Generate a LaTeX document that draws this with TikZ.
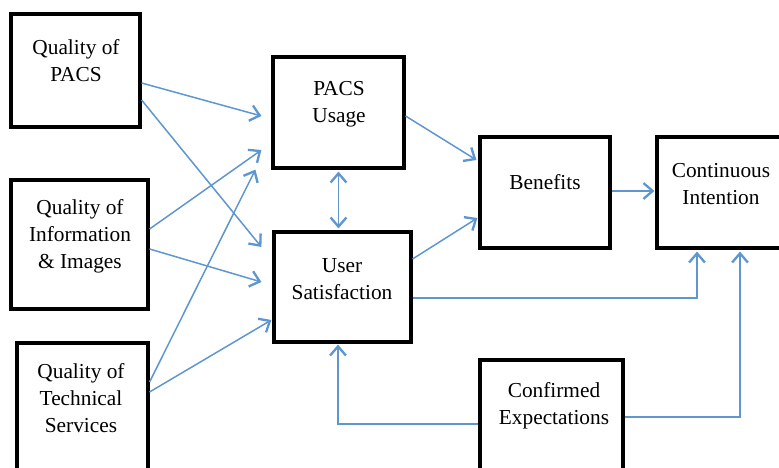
\documentclass[tikz,border=0pt]{standalone}
\usepackage{fontspec}
\setmainfont{Liberation Serif}
\usetikzlibrary{arrows.meta,calc}
\definecolor{linkblue}{RGB}{96,150,208}

\begin{document}
\begin{tikzpicture}
[
x=0.6pt, y=-0.6pt,
box/.style 2 args={draw, line width=1.9pt, minimum width=#1*0.6pt, minimum height=#2*0.6pt, inner sep=0pt},
txt/.style={align=center, font=\rmfamily\fontsize{12.8}{16.2}\selectfont, inner sep=0pt},
>={Straight Barb[length=5.5pt,width=9.5pt,line width=1.4pt]},
link/.style={draw=linkblue, line width=0.9pt}
]
\useasboundingbox (0,0) rectangle (779,468);

% boxes
\node[box={129}{113}] (qpacs) at (75.5,70.5) {};
\node[box={137}{129}] (qinfo) at (79.5,244.5) {};
\node[box={131}{137}] (qtech) at (82.5,411.5) {};
\node[box={131}{111}] (usage) at (338.5,112.5) {};
\node[box={137}{110}] (satis) at (342.5,287) {};
\node[box={130}{111}] (benef) at (545,192.5) {};
\node[box={133}{111}] (intent) at (723.5,192.5) {};
\node[box={143}{120}] (expect) at (551.5,420) {};

% texts
\node[txt] (qpacs-t) at (76,61) {Quality of\\PACS};
\node[txt] (qinfo-t) at (80,236) {Quality of\\Information\\\& Images};
\node[txt] (qtech-t) at (81,398) {Quality of\\Technical\\Services};
\node[txt] (usage-t) at (339,104) {PACS\\Usage};
\node[txt] (satis-t) at (342,279) {User\\Satisfaction};
\node[txt] (benef-t) at (545,182) {Benefits};
\node[txt] (intent-t) at (721,184) {Continuous\\Intention};
\node[txt] (expect-t) at (554,406) {Confirmed\\Expectations};

% links
\draw[link,->] ($(qpacs.east)+(0,12.5)$) -- ($(usage.west)+(-10,3.5)$);
\draw[link,->] ($(qpacs.east)+(0,29.5)$) -- ($(satis.west)+(-11,-40)$);
\draw[link,->] ($(qinfo.east)+(0,-15.5)$) -- ($(usage.west)+(-10,37.5)$);
\draw[link,->] ($(qinfo.east)+(0,4.5)$) -- ($(satis.west)+(-11,-5)$);
\draw[link,->] ($(qtech.east)+(0,-29.5)$) -- ($(usage.south west)+(-16,0)$);
\draw[link,->] ($(qtech.east)+(0,-19.5)$) -- ($(satis.west)+(-1,33)$);
\draw[link,<->] ($(usage.south)+(0,2)$) -- ($(usage.south |- satis.north)+(0,-2)$);
\draw[link,->] ($(usage.east)+(0,3.5)$) -- ($(benef.west)+(-2,-32.5)$);
\draw[link,->] ($(satis.east)+(0,-28)$) -- ($(benef.west)+(-1,25.5)$);
\draw[link,->] ($(benef.east)+(0,-1.5)$) -- ($(intent.west)+(-1,-1.5)$);
\draw[link,->] ($(satis.east)+(0,11)$) -| ($(intent.south)+(-26.5,2)$);
\draw[link,->] ($(expect.west)+(0,4)$) -| ($(satis.south)+(-4.5,1)$);
\draw[link,->] ($(expect.east)+(0,-3)$) -| ($(intent.south)+(16.5,2)$);
\end{tikzpicture}
\end{document}
